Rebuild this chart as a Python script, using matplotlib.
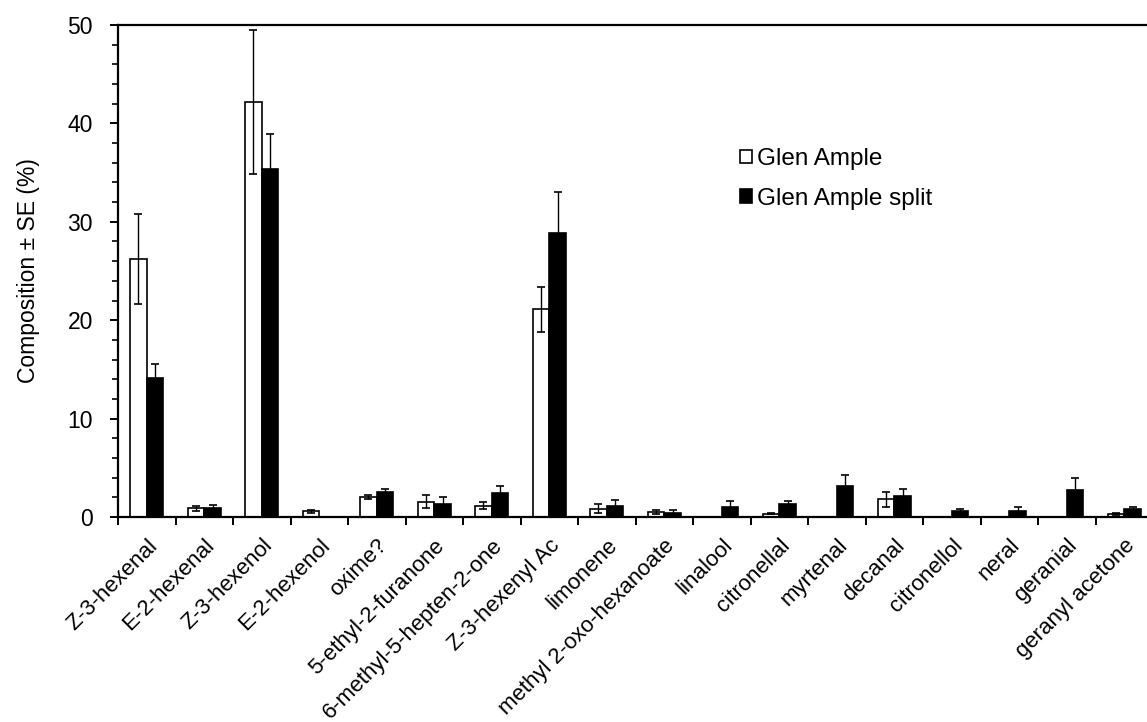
import matplotlib
matplotlib.use("Agg")
import matplotlib.pyplot as plt
import numpy as np
from matplotlib.ticker import MultipleLocator, FixedLocator, NullFormatter

plt.rcParams['font.family'] = ['Liberation Sans', 'DejaVu Sans']

categories = ["Z-3-hexenal", "E-2-hexenal", "Z-3-hexenol", "E-2-hexenol", "oxime?",
              "5-ethyl-2-furanone", "6-methyl-5-hepten-2-one", "Z-3-hexenyl Ac",
              "limonene", "methyl 2-oxo-hexanoate", "linalool", "citronellal",
              "myrtenal", "decanal", "citronellol", "neral", "geranial", "geranyl acetone"]
glen_ample = [26.2, 0.9, 42.2, 0.6, 2.0, 1.55, 1.15, 21.1, 0.85, 0.5, 0.05, 0.35,
              0.0, 1.8, 0.0, 0.0, 0.05, 0.3]
glen_ample_se = [4.6, 0.25, 7.3, 0.15, 0.2, 0.68, 0.34, 2.3, 0.47, 0.2, 0.0, 0.07,
                 0.0, 0.78, 0.0, 0.0, 0.0, 0.1]
glen_split = [14.1, 0.88, 35.4, 0.0, 2.5, 1.3, 2.45, 28.9, 1.08, 0.42, 1.05, 1.3,
              3.2, 2.1, 0.6, 0.65, 2.75, 0.85]
glen_split_se = [1.4, 0.33, 3.5, 0.0, 0.38, 0.75, 0.75, 4.1, 0.6, 0.3, 0.58, 0.34,
                 1.05, 0.75, 0.24, 0.34, 1.22, 0.2]
series_names = ["Glen Ample", "Glen Ample split"]

W, H = 1147, 722
fig = plt.figure(figsize=(W / 100, H / 100), dpi=100)
ax = fig.add_axes([118 / W, 1 - 517 / H, (1153 - 118) / W, (517 - 25) / H])

x = np.arange(len(categories))
bw = 0.29
err_kw = dict(ecolor='black', elinewidth=1.0, capsize=3.0, capthick=1.2)
ax.bar(x - bw / 2, glen_ample, bw, yerr=glen_ample_se, color='white', edgecolor='black',
       linewidth=1.2, label=series_names[0], error_kw=err_kw, zorder=2)
ax.bar(x + bw / 2, glen_split, bw, yerr=glen_split_se, color='black', edgecolor='black',
       linewidth=1.2, label=series_names[1], error_kw=err_kw, zorder=2)

ax.set_xlim(-0.5, len(categories) - 0.5)
ax.set_ylim(0, 50)
ax.yaxis.set_major_locator(MultipleLocator(10))
ax.yaxis.set_minor_locator(MultipleLocator(2))
ax.tick_params(axis='y', which='major', direction='out', length=6, width=1.4, labelsize=16.5, pad=12)
ax.tick_params(axis='y', which='minor', direction='out', length=4.5, width=1.2)

ax.xaxis.set_major_locator(FixedLocator(np.arange(-0.5, len(categories), 1.0)))
ax.xaxis.set_major_formatter(NullFormatter())
ax.xaxis.set_minor_locator(FixedLocator(x))
ax.set_xticklabels(categories, minor=True, rotation=45, ha='right', rotation_mode='anchor',
                   fontsize=16)
ax.tick_params(axis='x', which='major', direction='out', length=6, width=1.4)
ax.tick_params(axis='x', which='minor', length=0, pad=13)

for s in ['left', 'bottom', 'top']:
    ax.spines[s].set_linewidth(1.6)
ax.spines['right'].set_visible(False)

ax.set_ylabel("Composition ± SE (%)", fontsize=16.5, labelpad=20)

leg = fig.legend(loc='upper left', bbox_to_anchor=(728 / W, 1 - 136 / H), frameon=False,
                 fontsize=17.5, handlelength=0.5, handleheight=0.5, handletextpad=0.2,
                 labelspacing=0.72, borderpad=0)

fig.savefig("out.png", dpi=100)
